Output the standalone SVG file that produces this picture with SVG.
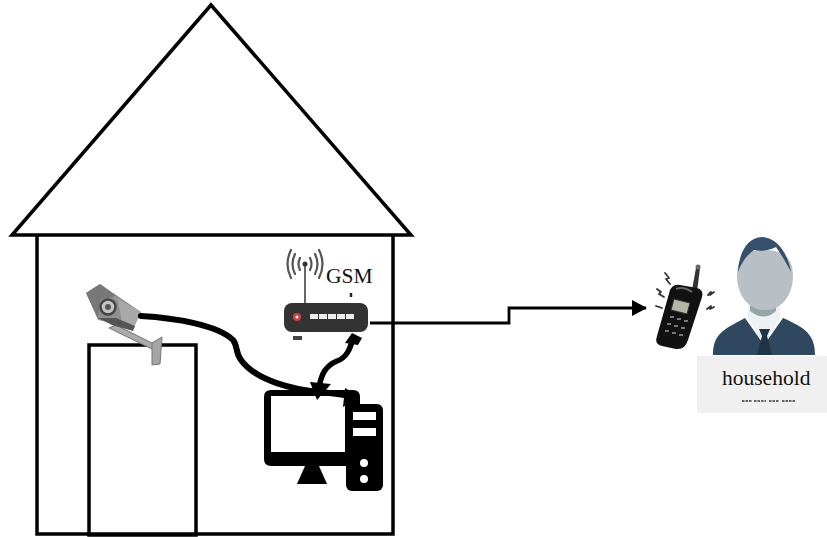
<svg xmlns="http://www.w3.org/2000/svg" width="827" height="537" viewBox="0 0 827 537">
<style>
.h{fill:none;stroke:#000;stroke-width:3.5}
.w{fill:none;stroke:#000;stroke-linecap:round;stroke-linejoin:round}
.t{font-family:"Liberation Serif",serif;fill:#111}
.r{fill:none;stroke:#555;stroke-width:2.2;stroke-linecap:round}
.s{fill:none;stroke:#333;stroke-width:1.8;stroke-linecap:round;stroke-linejoin:round}
</style>
<defs>
<marker id="a" markerUnits="userSpaceOnUse" markerWidth="15" markerHeight="16" refX="14" refY="8" orient="auto"><path d="M0 0L15 8L0 16Z" fill="#000"/></marker>
</defs>
<rect width="827" height="537" fill="#fff"/>
<g id="house">
<path class="h" d="M211 5L12 235H411Z"/>
<path class="h" d="M37 235V534H393V235"/>
</g>
<g id="door"><rect class="h" x="89" y="345" width="107" height="190"/></g>
<g id="computer">
<path d="M271 390H353Q360 390 360 397V466H271Q264 466 264 459V397Q264 390 271 390Z" fill="#000"/>
<rect x="271" y="396" width="74" height="56" fill="#fff"/>
<path d="M297 484L305 466H319L327 484Z" fill="#000"/>
<rect x="346" y="404" width="37" height="87" rx="6" fill="#000"/>
<rect x="353" y="412" width="23" height="8" fill="#fff"/>
<rect x="353" y="428" width="23" height="8" fill="#fff"/>
<circle cx="364" cy="463" r="4" fill="#fff"/>
<circle cx="364" cy="479" r="4" fill="#fff"/>
</g>
<g id="camera">
<path d="M109 328L116 325L158 346L154 350Z" fill="#aaa" stroke="#777"/>
<path d="M152 343L162 337L160 364L152 365Z" fill="#a5a5a5" stroke="#777"/>
<path d="M86 293L100 284L141 312L133 329L118 324L98 320Z" fill="#8f8f8f"/>
<path d="M106 292L141 312L133 329L122 322L118 300Z" fill="#a9a9a9"/>
<path d="M86 293L100 284L116 296L100 300L98 318Z" fill="#787878"/>
<path d="M98 318L112 325L133 331L135 326L116 318Z" fill="#555"/>
<circle cx="108" cy="307" r="7.5" fill="#c4c4c4" stroke="#444" stroke-width="2.5"/>
<circle cx="108" cy="307" r="3" fill="#555"/>
</g>
<g id="router">
<rect x="284" y="303" width="84" height="29" rx="8" fill="#333"/>
<circle cx="297" cy="317" r="4" fill="#c44"/>
<circle cx="297" cy="317" r="1.5" fill="#eee"/>
<g fill="#eee">
<rect x="310" y="314" width="8" height="5"/><rect x="319" y="314" width="8" height="5"/><rect x="328" y="314" width="8" height="5"/><rect x="337" y="314" width="8" height="5"/><rect x="346" y="314" width="8" height="5"/>
</g>
<rect x="293" y="336" width="9" height="4" fill="#444"/>
<path d="M305 266V303" stroke="#666" stroke-width="2" fill="none"/>
<circle cx="305" cy="264" r="2.5" fill="#333"/>
<path class="r" d="M300 258Q297 264 300 270M310 258Q313 264 310 270"/>
<path class="r" d="M295 254Q290 264 295 274M315 254Q320 264 315 274"/>
<path class="r" d="M291 250Q284 264 291 278M319 250Q326 264 319 278"/>
<path d="M351 293V297" stroke="#222" stroke-width="2.5"/>
<text class="t" x="326" y="283" font-size="21.5">GSM</text>
</g>
<g id="phone">
<path d="M696 268L700 268L697 292L692 290Z" fill="#333"/>
<circle cx="698" cy="267" r="2.5" fill="#666"/>
<path d="M670 290Q673 284 680 285L697 288Q704 290 702 297L688 340Q685 350 676 349L662 346Q654 344 657 336Z" fill="#111"/>
<path d="M674 299L690 303L687 314L671 310Z" fill="#b5b5a5" stroke="#333"/>
<path d="M676 289Q684 286 692 292" stroke="#666" stroke-width="2" fill="none"/>
<g fill="#777"><rect x="670" y="316" width="4" height="2"/><rect x="677" y="318" width="4" height="2"/><rect x="684" y="320" width="4" height="2"/><rect x="667" y="323" width="4" height="2"/><rect x="674" y="325" width="4" height="2"/><rect x="681" y="327" width="4" height="2"/><rect x="665" y="330" width="4" height="2"/><rect x="672" y="332" width="4" height="2"/><rect x="679" y="334" width="4" height="2"/></g>
<path class="s" d="M665 273L669 278L666 279L670 284M657 289L661 292L659 294L664 297M656 306L662 308M708 295L711 292L710 295L714 292M707 309L711 306L710 309L714 307"/>
</g>
<g id="household">
<path d="M713 355C713 335 722 330 745 318L764 345L783 318C806 328 815 335 815 355Z" fill="#30485f"/>
<path d="M748 304V318L764 345L780 318V304Z" fill="#edf1f2"/>
<path d="M750 304V311Q764 322 776 311V304Z" fill="#96a5a6"/>
<path d="M759 329H770L767 336L772 355H757L762 336Z" fill="#1f3347"/>
<path d="M737 276C737 256 746 250 764 250C783 250 793 258 793 276C793 292 784 310 765 310C746 310 737 292 737 276Z" fill="#b9c0c5"/>
<path d="M738 272C739 254 746 238 762 237C778 238 788 254 791 272C786 262 782 256 776 247C770 250 762 252 754 250C746 256 742 262 738 272Z" fill="#34506b"/>
<rect x="697" y="356" width="130" height="57" fill="#f0f0f0"/>
<text class="t" x="722" y="385" font-size="21.5">household</text>
<path d="M742 401H752M754 401H766M769 401H779M782 401H795" stroke="#333" stroke-width="1.5" stroke-dasharray="2.5 1"/>
</g>
<g id="connectors">
<path class="w" stroke-width="6" d="M141 316C175 318 218 325 233 340C238 346 235 352 241 360C256 381 295 390 320 392C335 394 345 394 357 398"/>
<path d="M345 388L360 397L343 407Z" fill="#000"/>
<path class="w" stroke-width="5.5" d="M319 388C321 375 325 366 337 361C346 358 350 350 353 338"/>
<path d="M310 382L331 384L317 400Z" fill="#000"/>
<path d="M345 343L352 333L362 338L358 345Z" fill="#000"/>
<path fill="none" stroke="#000" stroke-width="2.8" marker-end="url(#a)" d="M370 323H509V308H646"/>
</g>
</svg>
